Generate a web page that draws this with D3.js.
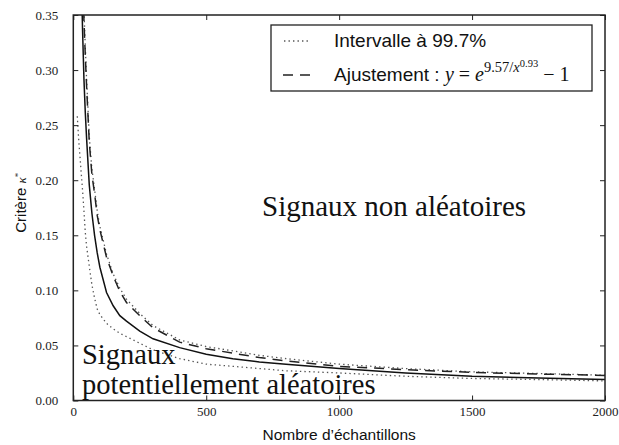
<!DOCTYPE html>
<html>
<head>
<meta charset="utf-8">
<script src="https://cdn.jsdelivr.net/npm/d3@7"></script>
<style>
  body { margin: 0; background: #fff; }
  svg { display: block; }
</style>
</head>
<body>
<svg id="chart" width="619" height="445"></svg>
<script>
// Sample sizes at which the criterion was evaluated
const echantillons = [15, 20, 25, 30, 35, 40, 45, 50, 60, 70, 80, 90, 100, 125, 150, 175, 200,
                      250, 300, 400, 500, 600, 700, 800, 1000, 1250, 1500, 1750, 2000];

// Lower bound of the 99.7% interval
const borneBasse = [0.258, 0.238, 0.222, 0.206, 0.190, 0.172, 0.153, 0.140, 0.122, 0.105, 0.093, 0.083, 0.078,
                    0.070, 0.065, 0.061, 0.058, 0.052, 0.046, 0.038, 0.033, 0.031, 0.029, 0.027, 0.025,
                    0.022, 0.020, 0.019, 0.0178];

// Mean criterion value
const critereMoyen = [null, null, null, 0.385, 0.335, 0.292, 0.262, 0.238, 0.196, 0.170, 0.150, 0.134, 0.121,
                      0.098, 0.086, 0.077, 0.072, 0.063, 0.056, 0.048, 0.042, 0.038, 0.035, 0.033, 0.029,
                      0.025, 0.022, 0.0205, 0.019];

// Fitted curve
const ajustement = [null, null, null, null, 0.400, 0.345, 0.314, 0.285, 0.235, 0.205, 0.188, 0.168, 0.155,
                    0.130, 0.113, 0.099, 0.089, 0.077, 0.066, 0.053, 0.047, 0.043, 0.039, 0.036, 0.031,
                    0.028, 0.0255, 0.024, 0.0228];

// Upper bound of the 99.7% interval
const borneHaute = [null, null, null, null, 0.410, 0.355, 0.322, 0.292, 0.240, 0.210, 0.192, 0.172, 0.158,
                    0.133, 0.115, 0.102, 0.092, 0.079, 0.068, 0.055, 0.049, 0.045, 0.041, 0.038, 0.033,
                    0.029, 0.026, 0.0245, 0.023];

const xTicks = [0, 500, 1000, 1500, 2000];
const yTicks = [0.00, 0.05, 0.10, 0.15, 0.20, 0.25, 0.30, 0.35];

const serif = "'Liberation Serif', 'DejaVu Serif', serif";
const sans = "'Liberation Sans', Arial, sans-serif";

const frame = { left: 73.3, right: 605, top: 15, bottom: 400.5 };

const svg = d3.select('#chart');

const x = d3.scaleLinear().domain([0, 2000]).range([frame.left, frame.right]);
const y = d3.scaleLinear().domain([0, 0.35]).range([frame.bottom, frame.top]);

svg.append('defs').append('clipPath').attr('id', 'zone')
  .append('rect')
  .attr('x', frame.left).attr('y', frame.top)
  .attr('width', frame.right - frame.left).attr('height', frame.bottom - frame.top);

// Curves
const series = [
  { values: borneBasse,   stroke: '#555', width: 1.3, dash: '1.4,3.1' },
  { values: borneHaute,   stroke: '#555', width: 1.3, dash: '1.4,3.1' },
  { values: ajustement,   stroke: '#222', width: 1.5, dash: '10,7' },
  { values: critereMoyen, stroke: '#111', width: 1.5, dash: null }
];

const line = d3.line()
  .defined(d => d[1] != null)
  .x(d => x(d[0]))
  .y(d => y(d[1]));

const curves = svg.append('g').attr('clip-path', 'url(#zone)');
series.forEach(s => {
  curves.append('path')
    .datum(echantillons.map((n, i) => [n, s.values[i]]))
    .attr('d', line)
    .attr('fill', 'none')
    .attr('stroke', s.stroke)
    .attr('stroke-width', s.width)
    .attr('stroke-dasharray', s.dash);
});

// Axes with inward ticks on all four sides
function styleAxis(g) {
  g.select('.domain').remove();
  g.selectAll('.tick line').attr('stroke', '#222').attr('stroke-width', 1);
  g.selectAll('.tick text').attr('font-family', serif).attr('font-size', 13).attr('fill', '#222');
}

svg.append('g')
  .attr('transform', `translate(0,${frame.bottom})`)
  .call(d3.axisBottom(x).tickValues(xTicks).tickFormat(d3.format('d'))
        .tickSizeInner(-5).tickSizeOuter(0).tickPadding(6.5))
  .call(styleAxis);

svg.append('g')
  .attr('transform', `translate(0,${frame.top})`)
  .call(d3.axisTop(x).tickValues(xTicks).tickFormat('')
        .tickSizeInner(-5).tickSizeOuter(0))
  .call(styleAxis);

svg.append('g')
  .attr('transform', `translate(${frame.left},0)`)
  .call(d3.axisLeft(y).tickValues(yTicks).tickFormat(d3.format('.2f'))
        .tickSizeInner(-5).tickSizeOuter(0).tickPadding(15))
  .call(styleAxis);

svg.append('g')
  .attr('transform', `translate(${frame.right},0)`)
  .call(d3.axisRight(y).tickValues(yTicks).tickFormat('')
        .tickSizeInner(-5).tickSizeOuter(0))
  .call(styleAxis);

// Plot frame
svg.append('rect')
  .attr('x', frame.left).attr('y', frame.top)
  .attr('width', frame.right - frame.left).attr('height', frame.bottom - frame.top)
  .attr('fill', 'none').attr('stroke', '#222').attr('stroke-width', 1.5);

// Axis titles
svg.append('text')
  .attr('x', (frame.left + frame.right) / 2).attr('y', 440)
  .attr('text-anchor', 'middle')
  .attr('font-family', sans).attr('font-size', 15.5).attr('fill', '#111')
  .text('Nombre d\u2019échantillons');

const yTitle = svg.append('text')
  .attr('transform', `translate(26,${(frame.top + frame.bottom) / 2 - 5}) rotate(-90)`)
  .attr('text-anchor', 'middle')
  .attr('font-family', sans).attr('font-size', 15).attr('fill', '#111');
yTitle.append('tspan').text('Critère ');
yTitle.append('tspan').attr('font-family', serif).attr('font-style', 'italic').attr('font-size', 13).text('κ');
yTitle.append('tspan').attr('font-family', serif).attr('font-size', 9).attr('dy', -5).text('*');

// Region annotations
svg.append('text')
  .attr('x', 262).attr('y', 216)
  .attr('font-family', serif).attr('font-size', 29).attr('fill', '#111')
  .text('Signaux non aléatoires');

const lowRegion = svg.append('text')
  .attr('x', 82).attr('y', 364)
  .attr('font-family', serif).attr('font-size', 28.5).attr('fill', '#111');
lowRegion.append('tspan').attr('x', 82).text('Signaux');
lowRegion.append('tspan').attr('x', 82).attr('dy', 30).text('potentiellement aléatoires');

// Legend
const legend = svg.append('g');
legend.append('rect')
  .attr('x', 271).attr('y', 25).attr('width', 321).attr('height', 66)
  .attr('fill', '#fff').attr('stroke', '#222').attr('stroke-width', 1.3);

legend.append('line')
  .attr('x1', 284).attr('x2', 310).attr('y1', 41).attr('y2', 41)
  .attr('stroke', '#555').attr('stroke-width', 1.3).attr('stroke-dasharray', '1.4,3.1');
legend.append('line')
  .attr('x1', 283).attr('x2', 310).attr('y1', 75).attr('y2', 75)
  .attr('stroke', '#222').attr('stroke-width', 1.5).attr('stroke-dasharray', '10,7');

legend.append('text')
  .attr('x', 334).attr('y', 47)
  .attr('font-family', sans).attr('font-size', 19).attr('fill', '#111')
  .text('Intervalle à 99.7%');

const fitLabel = legend.append('text')
  .attr('x', 334).attr('y', 81)
  .attr('font-family', sans).attr('font-size', 19).attr('fill', '#111');
fitLabel.append('tspan').text('Ajustement : ');
fitLabel.append('tspan').attr('font-family', serif).attr('font-style', 'italic').attr('font-size', 20).text('y');
fitLabel.append('tspan').attr('font-family', serif).attr('font-size', 20).text(' = ');
fitLabel.append('tspan').attr('font-family', serif).attr('font-style', 'italic').attr('font-size', 20).text('e');
fitLabel.append('tspan').attr('font-family', serif).attr('font-size', 14.5).attr('dy', -9).text('9.57/');
fitLabel.append('tspan').attr('font-family', serif).attr('font-style', 'italic').attr('font-size', 14.5).text('x');
fitLabel.append('tspan').attr('font-family', serif).attr('font-size', 10.5).attr('dy', -5).text('0.93');
fitLabel.append('tspan').attr('font-family', serif).attr('font-size', 20).attr('dy', 14).text(' − 1');
</script>
</body>
</html>
